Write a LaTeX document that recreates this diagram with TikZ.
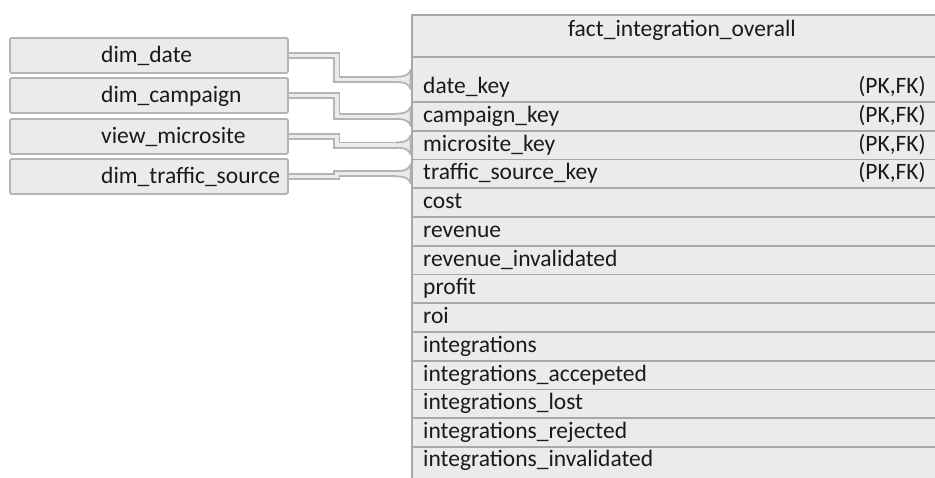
\documentclass[tikz,border=0pt]{standalone}
\usepackage{fontspec}
\setmainfont{Carlito}
\usetikzlibrary{calc}
\definecolor{boxfill}{HTML}{EBEBEB}
\definecolor{boxline}{HTML}{B4B4B4}
\definecolor{sepline}{HTML}{A8A8A8}
\definecolor{txt}{HTML}{1A1A1A}
\newcommand\fkend[1]{%
  \draw[flare] ($(#1.west)+(-15,-2.6)$) .. controls ($(#1.west)+(-5,-2.6)$) and ($(#1.west)+(-1.5,-5.5)$) .. ($(#1.west)+(-0.5,-9.5)$)
     -- ($(#1.west)+(-0.5,9.5)$) .. controls ($(#1.west)+(-1.5,5.5)$) and ($(#1.west)+(-5,2.6)$) .. ($(#1.west)+(-15,2.6)$);}
\begin{document}
\begin{tikzpicture}[x=1pt,y=-1pt,
  tbl/.style={draw=sepline, line width=1.8pt, fill=boxfill, rectangle, inner sep=0, minimum width=540pt, anchor=north west},
  dimbox/.style={draw=boxline, line width=1.8pt, fill=boxfill, rounded corners=1.5pt, rectangle, inner sep=0, minimum width=278pt, minimum height=35pt, anchor=north west},
  lbl/.style={text=txt, inner sep=0, font=\fontsize{23.5}{28}\selectfont},
  conn/.style={draw=boxline, line width=1.8pt, double=boxfill, double distance=3.4pt},
  flare/.style={draw=boxline, line width=1.8pt, fill=boxfill, line join=round}]
\useasboundingbox (0,0) rectangle (935,477);
\clip (0,0) rectangle (935,477);
% fact table
\node[tbl, minimum height=42pt] (h) at (411,14) {};
\node[lbl, anchor=base] (ht) at ($(h.center)+(0,1)$) {fact\_integration\_overall};
\node[tbl, minimum height=45pt] (r1) at (411,56) {};
\node[lbl, anchor=base west] (t1) at ($(r1.west)+(12,14.5)$) {date\_key};
\foreach \t [count=\k from 2] in {campaign\_key, microsite\_key, traffic\_source\_key, cost, revenue, revenue\_invalidated, profit, roi, integrations, integrations\_accepeted, integrations\_lost}{
  \node[tbl, minimum height=28.75pt] (r\k) at (411,{101+(\k-2)*28.75}) {};
  \node[lbl, anchor=base west] (t\k) at ($(r\k.west)+(12,6.1)$) {\t};
}
\node[tbl, minimum height=28.75pt] (r13) at (411,{101+11*28.75}) {};
\node[lbl, anchor=base west] (t13) at ($(r13.west)+(12,6.1)$) {integrations\_rejected};
\node[tbl, minimum height=40pt] (r14) at (411,{101+12*28.75}) {};
\node[lbl, anchor=base west] (t14) at ($(r14.north west)+(12,20.5)$) {integrations\_invalidated};
\node[lbl, anchor=base east] (p1) at ($(r1.west)+(515,14.5)$) {(PK,FK)};
\node[lbl, anchor=base east] (p2) at ($(r2.west)+(515,6.1)$) {(PK,FK)};
\node[lbl, anchor=base east] (p3) at ($(r3.west)+(515,6.1)$) {(PK,FK)};
\node[lbl, anchor=base east] (p4) at ($(r4.west)+(515,6.1)$) {(PK,FK)};
% dimension boxes
\node[dimbox] (d1) at (9,37) {};
\node[dimbox] (d2) at (9,77) {};
\node[dimbox] (d3) at (9,118) {};
\node[dimbox] (d4) at (9,158) {};
\node[lbl, anchor=base west] (n1) at ($(d1.west)+(92,7.5)$) {dim\_date};
\node[lbl, anchor=base west] (n2) at ($(d2.west)+(92,7.5)$) {dim\_campaign};
\node[lbl, anchor=base west] (n3) at ($(d3.west)+(92,7.5)$) {view\_microsite};
\node[lbl, anchor=base west] (n4) at ($(d4.west)+(92,7.5)$) {dim\_traffic\_source};
% connectors
\draw[conn] (d1.east) -- ++(48,0) |- ($(r1.west)+(-13,0)$);
\draw[conn] (d2.east) -- ++(48,0) |- ($(r2.west)+(-13,0)$);
\draw[conn] (d3.east) -- ++(48,0) |- ($(r3.west)+(-13,0)$);
\draw[conn] (d4.east) -- ++(48,0) |- ($(r4.west)+(-13,0)$);
\fkend{r1}
\fkend{r2}
\fkend{r3}
\fkend{r4}
\end{tikzpicture}
\end{document}
